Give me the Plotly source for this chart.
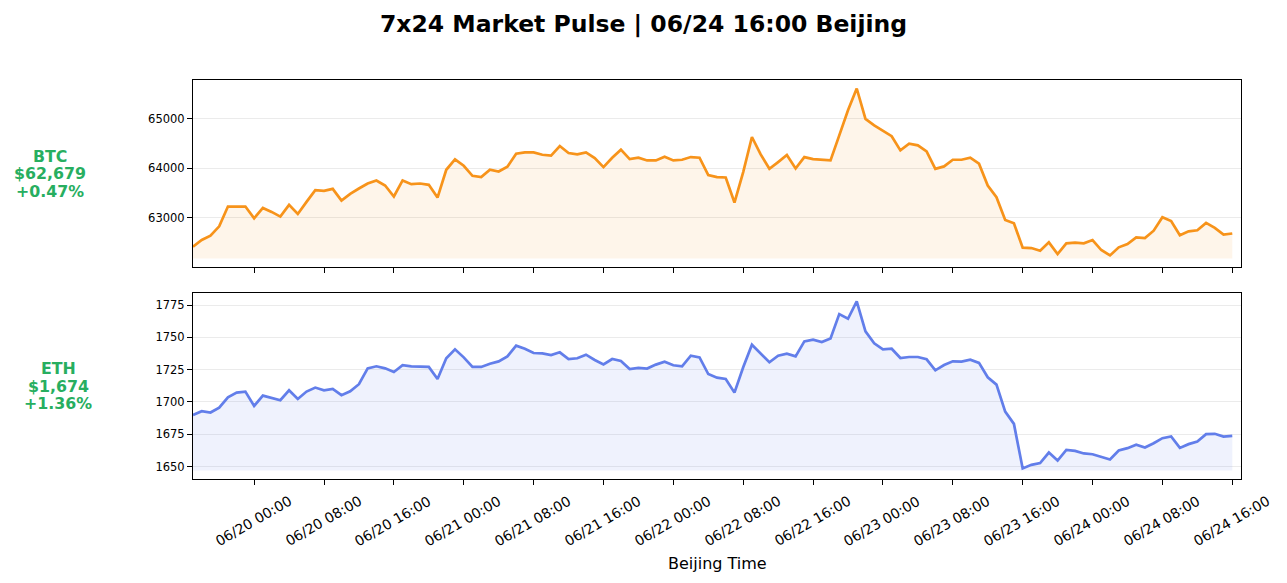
#%%
# imports
import pandas as pd
import numpy as np
import plotly.graph_objects as go

#%%
# hourly closes, Beijing time
times = pd.date_range('2024-06-19 17:00', periods=120, freq='h')

btc = [62412, 62547, 62635, 62824, 63223, 63216, 63223, 62986, 63196, 63115,
       63020, 63257, 63074, 63318, 63554, 63541, 63581, 63345, 63480, 63588,
       63689, 63750, 63649, 63426, 63750, 63676, 63689, 63662, 63405, 63966,
       64176, 64047, 63845, 63818, 63966, 63932, 64027, 64290, 64318, 64318,
       64270, 64252, 64446, 64304, 64277, 64318, 64203, 64020, 64209, 64372,
       64182, 64209, 64155, 64155, 64230, 64155, 64169, 64223, 64209, 63858,
       63818, 63811, 63304, 63919, 64628, 64277, 63986, 64122, 64264, 63993,
       64223, 64182, 64162, 64155, 64662, 65169, 65608, 64993, 64865, 64750,
       64645, 64358, 64493, 64459, 64338, 63986, 64034, 64169, 64169, 64209,
       64088, 63649, 63412, 62953, 62885, 62392, 62385, 62331, 62500, 62264,
       62480, 62493, 62480, 62547, 62345, 62236, 62399, 62466, 62601, 62588,
       62736, 63007, 62932, 62642, 62723, 62743, 62892, 62791, 62655, 62679]

eth = [1689.9, 1692.8, 1691.8, 1695.6, 1703.6, 1707.2, 1708.0, 1696.9, 1704.9, 1702.8,
       1701.3, 1709.0, 1702.3, 1708.0, 1711.1, 1709.0, 1710.0, 1705.2, 1708.2, 1713.7,
       1726.0, 1727.6, 1726.0, 1723.2, 1728.4, 1727.6, 1727.1, 1727.1, 1717.8, 1733.8,
       1740.7, 1734.5, 1727.1, 1727.1, 1729.6, 1731.4, 1735.3, 1743.6, 1741.2, 1737.9,
       1737.6, 1736.3, 1738.4, 1733.2, 1733.8, 1736.6, 1732.5, 1729.1, 1733.2, 1731.7,
       1725.5, 1726.3, 1725.8, 1728.9, 1731.2, 1728.4, 1727.6, 1735.8, 1734.5, 1721.6,
       1718.8, 1717.8, 1707.2, 1726.8, 1744.3, 1737.6, 1730.7, 1735.8, 1737.4, 1735.3,
       1746.9, 1748.2, 1746.4, 1749.2, 1768.0, 1764.4, 1777.8, 1754.6, 1745.4, 1740.7,
       1741.2, 1734.0, 1734.8, 1734.8, 1733.0, 1724.5, 1728.6, 1731.4, 1731.2, 1732.7,
       1730.2, 1719.1, 1713.4, 1692.5, 1683.0, 1648.5, 1651.3, 1652.6, 1660.8, 1654.6,
       1662.9, 1662.1, 1660.1, 1659.5, 1657.2, 1655.4, 1662.4, 1664.2, 1666.8, 1664.7,
       1668.0, 1671.9, 1673.2, 1664.4, 1667.3, 1669.3, 1675.0, 1675.3, 1673.2, 1673.7]

coins = ['BTC', 'ETH']
btc_ticks = [63000, 64000, 65000]
eth_ticks = [1650, 1675, 1700, 1725, 1750, 1775]
x_ticks = pd.date_range('2024-06-20 00:00', '2024-06-24 16:00', freq='8h')
x_tick_labels = [t.strftime('%m/%d %H:%M') for t in x_ticks]

#%%
line_colors = {'BTC': '#F7931A', 'ETH': '#627EEA'}
fill_colors = {'BTC': 'rgba(247,147,26,0.09)', 'ETH': 'rgba(98,126,234,0.10)'}
green = '#27ae60'
font = 'DejaVu Sans'

# the page body adds 8px around the plot div, so the figure is a bit smaller
OFF = 8
W, H = 1287 - OFF, 583 - OFF
PX_L, PX_R = 193, 1241          # plot area, page pixels
PX_T, PX_B = 80, 479
plot_w = PX_R - PX_L
plot_h = PX_B - PX_T
# panel pixel rows (page coords)
panels = {'BTC': (80, 267), 'ETH': (293, 479)}

def dom(top, bottom):
    return [(PX_B - bottom) / plot_h, (PX_B - top) / plot_h]

fig = go.Figure()
series = {'BTC': btc, 'ETH': eth}
axes = {'BTC': ('x', 'y'), 'ETH': ('x2', 'y2')}

for c in coins:
    vals = np.array(series[c])
    base = vals.min() * 0.999
    xa, ya = axes[c]
    fig.add_scatter(x=times, y=[base] * len(vals), mode='lines',
                    line=dict(width=0), hoverinfo='skip', showlegend=False,
                    xaxis=xa, yaxis=ya)
    fig.add_scatter(x=times, y=vals, mode='lines', name=c, fill='tonexty',
                    fillcolor=fill_colors[c],
                    line=dict(color=line_colors[c], width=2.7),
                    showlegend=False, xaxis=xa, yaxis=ya)

#%%
x_range = [times[0], times[-1] + pd.Timedelta(hours=1)]
common_x = dict(range=x_range, showgrid=False, showline=True, linecolor='black',
                linewidth=1, mirror=True, ticks='outside', ticklen=5,
                tickcolor='black', tickvals=x_ticks, showticklabels=False,
                zeroline=False, automargin=False)
common_y = dict(showgrid=True, gridcolor='#ebebeb', gridwidth=1, showline=True,
                linecolor='black', linewidth=1, mirror=True, ticks='outside',
                ticklen=5, tickcolor='black', tickformat='d', zeroline=False,
                automargin=False,
                tickfont=dict(family=font, size=11.5, color='black'))

def yrange(vals):
    lo, hi = min(vals) * 0.999, max(vals)
    pad = 0.05 * (hi - lo)
    return [lo - pad, hi + pad]

fig.update_layout(
    width=W, height=H,
    margin=dict(l=PX_L - OFF, r=1287 - PX_R, t=PX_T - OFF, b=583 - PX_B,
                autoexpand=False),
    paper_bgcolor='white', plot_bgcolor='white',
    font=dict(family=font, color='black'),
    title=dict(text='7x24 Market Pulse | 06/24 16:00 Beijing',
               x=(643.5 - OFF) / W, xref='container',
               y=1 - (24 - OFF) / H, yref='container',
               yanchor='middle', xanchor='center',
               font=dict(family=font, size=23.5, weight='bold', color='black')),
    xaxis=dict(anchor='y', domain=[0, 1], **common_x),
    xaxis2=dict(anchor='y2', domain=[0, 1], matches='x', **common_x),
    yaxis=dict(anchor='x', domain=dom(*panels['BTC']), range=yrange(btc),
               tickvals=btc_ticks, **common_y),
    yaxis2=dict(anchor='x2', domain=dom(*panels['ETH']), range=yrange(eth),
                tickvals=eth_ticks, **common_y),
)

# rotated tick labels centred on the ticks (like matplotlib)
for t, lab in zip(x_ticks, x_tick_labels):
    fig.add_annotation(x=t, xref='x2', y=0, yref='paper', text=lab,
                       showarrow=False, textangle=-30, xanchor='center',
                       yanchor='middle', yshift=-42, xshift=-1,
                       font=dict(family=font, size=14, color='black'))

fig.add_annotation(x=0.5, xref='paper', y=0, yref='paper', text='Beijing Time',
                   showarrow=False, yshift=-(563 - PX_B), yanchor='middle',
                   font=dict(family=font, size=16, color='black'))

# coin labels on the left: name, last price, 24h change
label_x = {'BTC': 49.5, 'ETH': 58.3}
for c in coins:
    vals = series[c]
    last = vals[-1]
    chg = (vals[-1] / vals[-24] - 1) * 100
    lines = [c, f"${last:,.0f}", f"{chg:+.2f}%"]
    top, bottom = panels[c]
    yc = (PX_B - (top + bottom) / 2) / plot_h
    for i, txt in enumerate(lines):
        fig.add_annotation(x=(label_x[c] - PX_L) / plot_w, xref='paper',
                           y=yc, yref='paper', text=txt, showarrow=False,
                           xanchor='center', yanchor='middle',
                           yshift=17.5 * (1 - i),
                           font=dict(family=font, size=15.8, weight='bold',
                                     color=green))

fig.write_html("out.html")
